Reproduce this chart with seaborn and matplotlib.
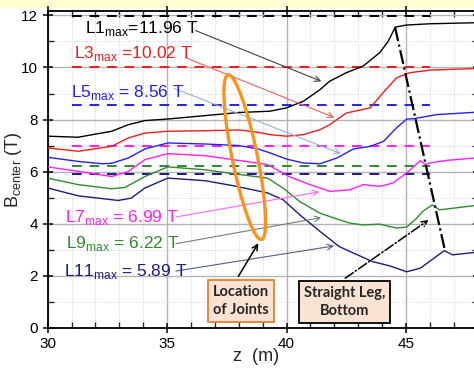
import matplotlib
matplotlib.use("Agg")
import matplotlib.pyplot as plt
from matplotlib.patches import Rectangle
from matplotlib.ticker import MultipleLocator
import numpy as np
import pandas as pd
import seaborn as sns

# ---- dados ----
z_L1 = [30, 31.27, 32.68, 33.37, 34.07, 35.03, 36.58, 38.0, 39.3, 40.0, 40.7, 41.4, 41.8, 42.5, 43.2, 43.9, 44.25, 44.55, 45.0, 46.0, 47.9]
B_L1 = [7.36, 7.32, 7.55, 7.8, 7.96, 8.02, 8.15, 8.27, 8.32, 8.45, 8.7, 9.15, 9.47, 9.8, 10.05, 10.57, 11.0, 11.55, 11.63, 11.68, 11.72]

z_L3 = [30, 31.27, 32.68, 33.37, 34.07, 35.03, 36.58, 38.0, 38.8, 39.3, 40.0, 40.7, 41.4, 41.8, 42.5, 43.5, 44.03, 44.6, 45.16, 46.0, 47.9]
B_L3 = [6.91, 6.78, 6.97, 7.29, 7.48, 7.55, 7.57, 7.6, 7.51, 7.42, 7.36, 7.42, 7.61, 7.8, 8.25, 8.45, 9.02, 9.6, 9.8, 9.9, 9.96]

z_L5 = [30, 31.27, 32.3, 32.68, 33.37, 34.07, 35.03, 36.58, 38.0, 38.8, 39.3, 40.0, 40.7, 41.4, 42.1, 42.8, 43.5, 44.06, 44.6, 45.03, 45.3, 46.3, 47.9]
B_L5 = [6.55, 6.39, 6.3, 6.32, 6.52, 6.87, 7.1, 7.06, 7.0, 6.87, 6.72, 6.48, 6.33, 6.3, 6.52, 6.87, 6.97, 7.16, 7.68, 8.02, 8.03, 8.19, 8.28]

z_L7 = [30, 31.27, 32.68, 33.37, 34.07, 35.03, 36.58, 37.75, 39.2, 40.1, 40.97, 41.81, 42.65, 43.2, 43.9, 44.45, 45.03, 45.6, 45.8, 46.0, 46.7, 47.85]
B_L7 = [6.18, 6.01, 5.81, 6.0, 6.46, 6.69, 6.61, 6.46, 6.27, 5.81, 5.5, 5.24, 5.3, 5.5, 5.43, 5.56, 5.95, 6.42, 6.27, 6.33, 6.43, 6.52]

z_L9 = [30, 31.27, 32.68, 33.23, 34.07, 35.03, 36.58, 37.75, 39.2, 39.85, 40.55, 41.4, 42.2, 42.65, 43.2, 43.9, 44.6, 45.03, 45.45, 45.7, 46.1, 46.4, 47.85]
B_L9 = [5.75, 5.5, 5.34, 5.39, 5.81, 6.18, 6.07, 5.92, 5.75, 5.37, 4.85, 4.4, 4.15, 4.02, 3.95, 3.98, 3.83, 3.87, 4.21, 4.47, 4.72, 4.53, 4.69]

z_L11 = [30, 31.27, 32.95, 33.5, 34.07, 35.03, 36.58, 37.75, 39.2, 39.85, 40.55, 41.4, 42.2, 42.65, 43.6, 44.3, 45.03, 45.6, 46.6, 46.95, 47.85]
B_L11 = [5.37, 5.07, 4.89, 4.98, 5.37, 5.75, 5.65, 5.46, 5.18, 4.92, 4.34, 3.7, 3.12, 2.93, 2.54, 2.38, 2.15, 2.29, 2.96, 2.8, 2.89]

camadas = ["L1", "L3", "L5", "L7", "L9", "L11"]
b_max = [11.96, 10.02, 8.56, 6.99, 6.22, 5.89]
rotulos = [r"L1$_{\rm max}$=11.96 T", r"L3$_{\rm max}$ =10.02 T", r"L5$_{\rm max}$ = 8.56 T",
           r"L7$_{\rm max}$ = 6.99 T", r"L9$_{\rm max}$ = 6.22 T", r"L11$_{\rm max}$ = 5.89 T"]
cores = ["#000000", "#ee1c1c", "#2222e6", "#ff1cff", "#2e8b2e", "#1c1c80"]
cores_seta = ["#404040", "#f06060", "#90b0d8", "#ff66ff", "#708070", "#506080"]
# posição do texto e ponta da seta de cada rótulo
texto_pos = [(31.56, 11.5), (31.1, 10.55), (30.97, 9.05), (30.72, 4.24), (30.77, 3.24), (30.68, 2.16)]
seta_ini = [(36.08, 11.46), (35.65, 10.42), (35.2, 9.23), (35.25, 4.24), (35.25, 3.21), (35.25, 2.16)]
seta_fim = [(41.56, 9.43), (42.1, 8.04), (42.38, 6.65), (41.48, 5.24), (41.56, 4.25), (42.1, 3.16)]
z_tracejado = (31.0, 46.0)

# monta tabela longa para o seaborn
zs = [z_L1, z_L3, z_L5, z_L7, z_L9, z_L11]
bs = [B_L1, B_L3, B_L5, B_L7, B_L9, B_L11]
df = pd.concat([pd.DataFrame({"z": z, "B": b, "camada": c}) for z, b, c in zip(zs, bs, camadas)])

sns.set_theme(style="ticks")
plt.rcParams['font.family'] = ['Liberation Sans', 'DejaVu Sans']
plt.rcParams['mathtext.fontset'] = 'custom'
plt.rcParams['mathtext.rm'] = 'Liberation Sans'

fig = plt.figure(figsize=(4.74, 3.75), dpi=100)
fig.add_artist(Rectangle((0, 1 - 7 / 375), 1, 7 / 375, transform=fig.transFigure,
                         color="#ffffd2", zorder=0))
ax = fig.add_axes([0.1006, 0.1261, 0.9072, 0.8445])

# grade
ax.xaxis.set_major_locator(MultipleLocator(5))
ax.xaxis.set_minor_locator(MultipleLocator(1))
ax.yaxis.set_major_locator(MultipleLocator(2))
ax.yaxis.set_minor_locator(MultipleLocator(1))
ax.grid(which="major", color="#b4b4b4", lw=1.0, ls="-")
ax.grid(which="minor", color="#cfcfcf", lw=0.7, ls=":")
ax.set_axisbelow(True)

# linhas tracejadas dos máximos
for v, c in zip(b_max, cores):
    ax.hlines(v, z_tracejado[0], z_tracejado[1], colors=c, linestyles=(0, (5, 4)), lw=1.4, zorder=2)

sns.lineplot(data=df, x="z", y="B", hue="camada", palette=dict(zip(camadas, cores)),
             sort=False, estimator=None, lw=1.0, legend=False, ax=ax, zorder=3)

# rótulos com setas
for r, c, cs, tp, si, sf in zip(rotulos, cores, cores_seta, texto_pos, seta_ini, seta_fim):
    ax.text(tp[0], tp[1], r, color=c, fontsize=12.5, ha="left", va="center", zorder=5)
    ax.annotate("", xy=sf, xytext=si,
                arrowprops=dict(arrowstyle="->", color=cs, lw=0.8, mutation_scale=10), zorder=4)

# elipse marcando as juntas
t = np.linspace(0, 2 * np.pi, 200)
centro = (38.25, 6.555)
eixo_a = (-0.7, 3.165)
eixo_b = (0.52, 0.095)
ax.plot(centro[0] + eixo_a[0] * np.cos(t) + eixo_b[0] * np.sin(t),
        centro[1] + eixo_a[1] * np.cos(t) + eixo_b[1] * np.sin(t),
        color="#f7931e", lw=2.4, zorder=6)

# linha traço-ponto da perna reta
ax.plot([44.54, 46.63], [11.55, 2.96], color="black", ls="-.", lw=1.6, zorder=6)

# caixas de texto
caixa = dict(boxstyle="square,pad=0.35", fc="#fbe3d3", lw=1.3)
ax.text(38.1, 1.02, "Location\nof Joints", ha="center", va="center", fontsize=10.5,
        fontweight="bold", family=["Lato", "DejaVu Sans"], linespacing=1.35,
        bbox=dict(caixa, ec="#ed7d31"), zorder=7)
ax.text(42.42, 0.98, "Straight Leg,\nBottom", ha="center", va="center", fontsize=10.5,
        fontweight="bold", family=["Lato", "DejaVu Sans"], linespacing=1.35,
        bbox=dict(caixa, ec="black"), zorder=7)
ax.annotate("", xy=(38.88, 3.34), xytext=(37.92, 1.88),
            arrowprops=dict(arrowstyle="->", color="black", lw=1.1, mutation_scale=10), zorder=6)
ax.annotate("", xy=(46.04, 4.2), xytext=(42.36, 1.84),
            arrowprops=dict(arrowstyle="->", color="black", lw=1.1, ls="-.", mutation_scale=10), zorder=6)

ax.set_xlim(30, 48)
ax.set_ylim(0, 12.17)
ax.tick_params(which="major", direction="inout", length=7, width=1.1, labelsize=11,
               top=True, right=True, colors="black")
ax.tick_params(which="minor", direction="in", length=4, width=1.0, top=True, right=True)
for s in ax.spines.values():
    s.set_color("black")
    s.set_linewidth(1.3)

ax.set_xlabel("z  (m)", fontsize=13)
ax.set_ylabel(r"B$_{\rm center}$ (T)", fontsize=13)
ax.xaxis.set_label_coords(0.484, -0.064)
ax.yaxis.set_label_coords(-0.056, 0.5)

plt.savefig("out.png", dpi=100)
